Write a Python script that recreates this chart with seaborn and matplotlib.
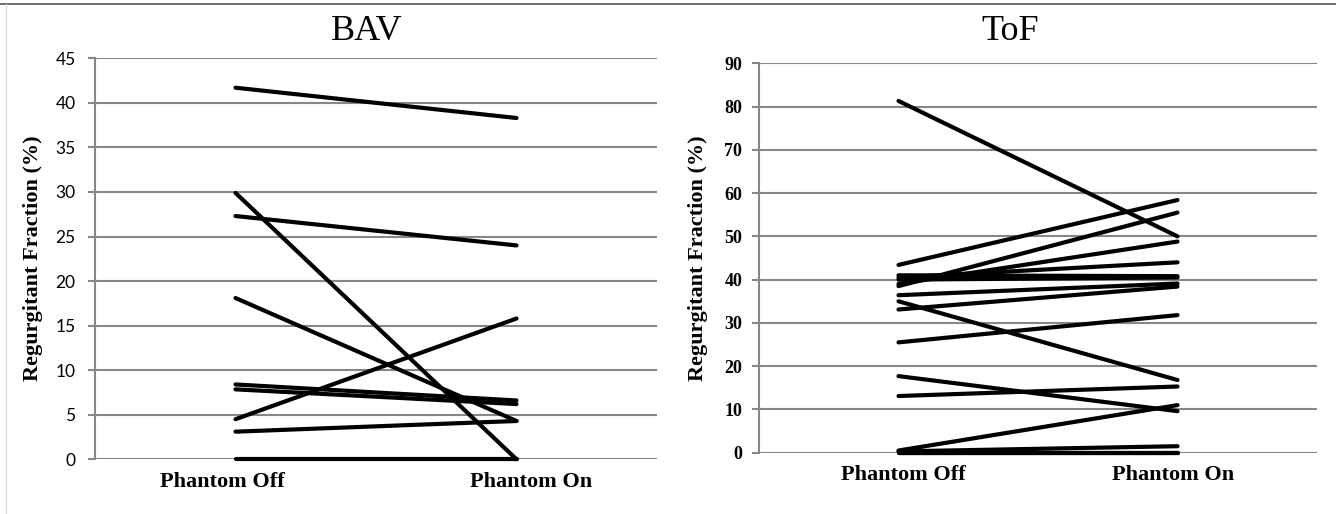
import matplotlib
matplotlib.use("Agg")
import matplotlib.pyplot as plt
import seaborn as sns
import pandas as pd
from matplotlib.lines import Line2D

conditions = ["Phantom Off", "Phantom On"]

bav_off = [41.7, 29.9, 27.3, 18.1, 8.4, 7.85, 4.5, 3.1, 0.0]
bav_on = [38.3, 0.0, 24.0, 4.3, 6.6, 6.2, 15.8, 4.3, 0.0]

tof_off = [81.3, 43.4, 38.5, 39.0, 40.5, 41.0, 40.0, 36.4, 33.1, 25.5,
           35.0, 13.1, 17.7, 0.5, 0.3, 0.0, 0.0]
tof_on = [50.0, 58.4, 55.5, 48.8, 44.0, 40.8, 40.5, 39.1, 38.4, 31.8,
          16.8, 15.3, 9.6, 11.0, 1.5, 0.0, 0.0]

titles = ["BAV", "ToF"]
ylabel = "Regurgitant Fraction (%)"


def long_df(off, on):
    rows = []
    for i, (a, b) in enumerate(zip(off, on)):
        rows.append({"subject": i, "cond": conditions[0], "rf": a})
        rows.append({"subject": i, "cond": conditions[1], "rf": b})
    return pd.DataFrame(rows)


sns.set_theme(style="white")
plt.rcParams["font.family"] = ["Liberation Serif", "DejaVu Serif"]

W, H = 1336, 514
fig = plt.figure(figsize=(W / 100, H / 100), dpi=100)
fig.patch.set_facecolor("white")

grid_c = "#878787"

# chart borders
fig.add_artist(Line2D([0, 1], [1 - 3.5 / H, 1 - 3.5 / H], color="#555555", lw=1.2,
                      transform=fig.transFigure))
fig.add_artist(Line2D([6 / W, 6 / W], [0, 1 - 3.5 / H], color="#d9d9d9", lw=0.9,
                      transform=fig.transFigure))

panels = [
    dict(df=long_df(bav_off, bav_on), rect=(95, 58.3, 657, 459.3), ymax=45, step=5,
         tickfont=dict(family="Lato", weight="normal", size=12.5), pad=9,
         title=titles[0], title_x=367, ylab_x=33, xt_y=482, xt_x=(222, 531)),
    dict(df=long_df(tof_off, tof_on), rect=(759, 63.3, 1317, 452.7), ymax=90, step=10,
         tickfont=dict(family="Liberation Serif", weight="bold", size=13), pad=7,
         title=titles[1], title_x=1010, ylab_x=698, xt_y=475, xt_x=(903, 1173)),
]

for p in panels:
    x0, ytop, x1, ybot = p["rect"]
    ax = fig.add_axes([x0 / W, (H - ybot) / H, (x1 - x0) / W, (ybot - ytop) / H])
    sns.lineplot(data=p["df"], x="cond", y="rf", units="subject", estimator=None,
                 color="black", lw=3.0, ax=ax, legend=False, sort=False,
                 solid_capstyle="round")
    for ln in ax.get_lines():
        ln.set_clip_on(False)
        ln.set_zorder(3)
    ax.set_xlim(-0.5, 1.5)
    ax.set_ylim(0, p["ymax"])
    yt = list(range(0, p["ymax"] + 1, p["step"]))
    ax.set_yticks(yt)
    ax.set_yticklabels([str(v) for v in yt], fontfamily=p["tickfont"]["family"],
                       fontweight=p["tickfont"]["weight"], fontsize=p["tickfont"]["size"],
                       color="black")
    ax.yaxis.grid(True, color=grid_c, lw=1.5)
    ax.set_axisbelow(True)
    for s in ["top", "right", "bottom"]:
        ax.spines[s].set_visible(False)
    ax.spines["left"].set_color(grid_c)
    ax.spines["left"].set_linewidth(1.5)
    ax.tick_params(axis="y", which="major", left=True, length=5, width=1.5,
                   color=grid_c, pad=p["pad"])
    ax.tick_params(axis="x", bottom=False, labelbottom=False)
    ax.set_xlabel("")
    ax.set_ylabel("")
    for c, xp in zip(conditions, p["xt_x"]):
        fig.text(xp / W, (H - p["xt_y"]) / H, c, ha="center", va="center",
                 fontsize=16, fontweight="bold", family="Liberation Serif",
                 color="black")
    fig.text(p["title_x"] / W, (H - 31) / H, p["title"], ha="center", va="center",
             fontsize=26, family="Liberation Serif", color="black")
    fig.text(p["ylab_x"] / W, (H - 258) / H, ylabel, rotation=90, ha="center",
             va="center", fontsize=16, fontweight="bold", family="Liberation Serif",
             color="black")

fig.savefig("out.png", dpi=100, facecolor="white")
